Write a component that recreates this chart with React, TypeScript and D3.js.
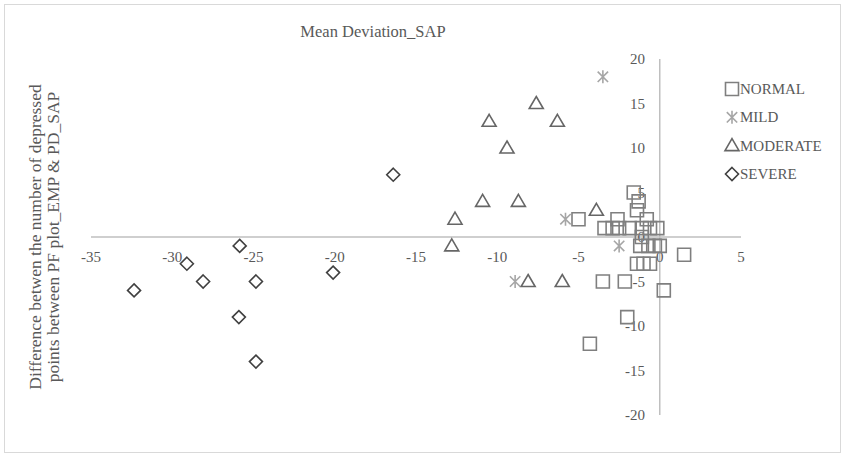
import React from "react";
import * as d3 from "d3";

const seriesNames = ["NORMAL", "MILD", "MODERATE", "SEVERE"];

const normalX = [-5, -2.6, -1.6, -1.3, -1.4, -0.8, -3.4, -2.9, -2.5, -1.85, -1.1, -0.6, -0.15, -1.1, -1.2, -0.7, -0.3, 0.0, 1.5, -1.4, -1.0, -0.6, -3.5, -2.15, 0.25, -2.0, -4.3];
const normalY = [2, 2, 5, 4, 3, 2, 1, 1, 1, 1, 1, 1, 1, 0, -1, -1, -1, -1, -2, -3, -3, -3, -5, -5, -6, -9, -12];

const mildX = [-3.5, -5.8, -2.5, -8.9];
const mildY = [18, 2, -1, -5];

const moderateX = [-7.6, -10.5, -6.3, -9.4, -10.9, -8.7, -12.6, -12.8, -3.9, -8.1, -6.0];
const moderateY = [15, 13, 13, 10, 4, 4, 2, -1, 3, -5, -5];

const severeX = [-25.85, -29.1, -28.1, -32.35, -24.85, -25.9, -20.1, -24.85, -16.4];
const severeY = [-1, -3, -5, -6, -5, -9, -4, -14, 7];

const xTicks = [-35, -30, -25, -20, -15, -10, -5, 0, 5];
const yTicks = [-20, -15, -10, -5, 0, 5, 10, 15, 20];

const W = 842;
const H = 455;
const FONT = "'Liberation Serif', 'Times New Roman', serif";
const TXT = "#595959";

const x = d3.scaleLinear().domain([-35, 5]).range([91, 741]);
const y = d3.scaleLinear().domain([-20, 20]).range([415, 59]);

const colors = ["#7f7f7f", "#a6a6a6", "#666666", "#404040"];

function markerPath(kind: number, cx: number, cy: number): string {
  const p = d3.path();
  if (kind === 0) {
    p.rect(cx - 6.5, cy - 6.5, 13, 13);
  } else if (kind === 1) {
    const r = 6.5;
    p.moveTo(cx, cy - r); p.lineTo(cx, cy + r);
    p.moveTo(cx - r * 0.8, cy - r * 0.8); p.lineTo(cx + r * 0.8, cy + r * 0.8);
    p.moveTo(cx - r * 0.8, cy + r * 0.8); p.lineTo(cx + r * 0.8, cy - r * 0.8);
  } else if (kind === 2) {
    p.moveTo(cx, cy - 7); p.lineTo(cx + 7, cy + 5); p.lineTo(cx - 7, cy + 5); p.closePath();
  } else {
    p.moveTo(cx, cy - 6.5); p.lineTo(cx + 6.5, cy); p.lineTo(cx, cy + 6.5); p.lineTo(cx - 6.5, cy); p.closePath();
  }
  return p.toString();
}

const seriesData = [
  normalX.map((v, i) => [v, normalY[i]]),
  mildX.map((v, i) => [v, mildY[i]]),
  moderateX.map((v, i) => [v, moderateY[i]]),
  severeX.map((v, i) => [v, severeY[i]]),
];

export default function App() {
  const legendY = d3.scaleLinear().domain([0, 3]).range([89, 174]);
  return (
    <svg width={W} height={H} style={{ position: "absolute", left: 0, top: 0, background: "#fff" }}>
      <rect x={4.5} y={4.5} width={836} height={448} fill="#fff" stroke="#d9d9d9" strokeWidth={1} />
      <text x={373} y={37} textAnchor="middle" fontFamily={FONT} fontSize={16.5} fill={TXT}>Mean Deviation_SAP</text>
      <line x1={x(-35)} x2={x(5)} y1={y(0)} y2={y(0)} stroke="#bfbfbf" strokeWidth={1.5} />
      <line x1={x(0)} x2={x(0)} y1={y(20)} y2={y(-20)} stroke="#bfbfbf" strokeWidth={1.5} />
      {xTicks.map((t) => (
        <text key={"x" + t} x={x(t)} y={y(0) + 25} textAnchor="middle" fontFamily={FONT} fontSize={15} fill={TXT}>{t}</text>
      ))}
      {yTicks.map((t) => (
        <text key={"y" + t} x={645} y={y(t) + 5} textAnchor="end" fontFamily={FONT} fontSize={15} fill={TXT}>{t}</text>
      ))}
      <g transform="translate(36,237) rotate(-90)">
        <text x={0} y={5} textAnchor="middle" fontFamily={FONT} fontSize={17.5} fill={TXT}>Difference betwen the number of depressed</text>
        <text x={0} y={23} textAnchor="middle" fontFamily={FONT} fontSize={17.5} fill={TXT}>points between PF plot_EMP &amp; PD_SAP</text>
      </g>
      {seriesData.map((pts, k) => (
        <g key={"s" + k}>
          {pts.map((d, i) => (
            <path key={i} d={markerPath(k, x(d[0]), y(d[1]))} fill="none" stroke={colors[k]} strokeWidth={1.6} />
          ))}
        </g>
      ))}
      {seriesNames.map((n, k) => (
        <g key={"l" + k}>
          <path d={markerPath(k, 732, legendY(k))} fill="none" stroke={colors[k]} strokeWidth={1.6} />
          <text x={740} y={legendY(k) + 5} fontFamily={FONT} fontSize={15} fill={TXT}>{n}</text>
        </g>
      ))}
    </svg>
  );
}
